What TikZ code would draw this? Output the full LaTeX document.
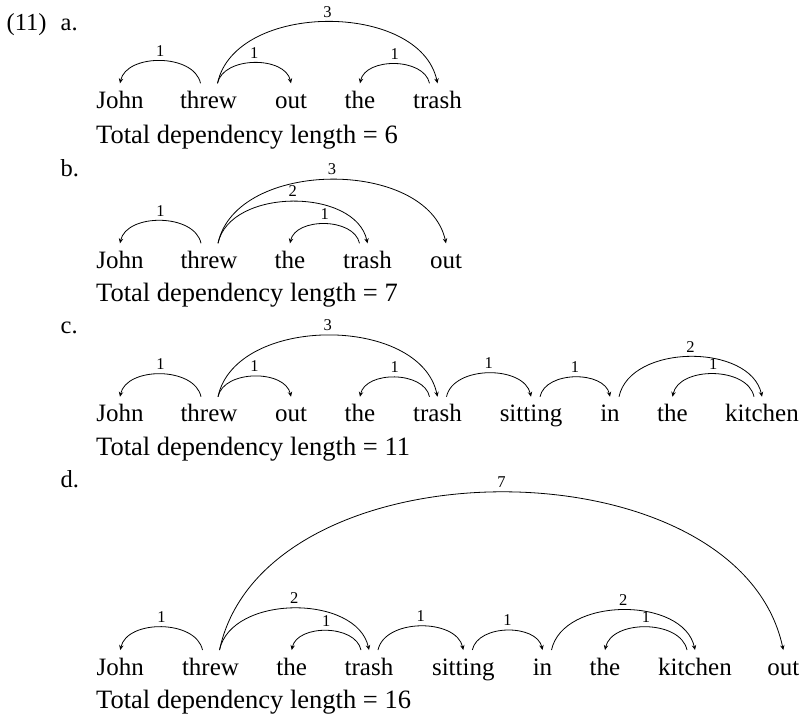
\documentclass[tikz,border=0pt]{standalone}
\usepackage{fontspec}
\setmainfont{Liberation Serif}
\usetikzlibrary{calc,arrows.meta}
\tikzset{
  word/.style={font=\fontsize{25}{30}\selectfont, inner sep=0pt, anchor=base},
  plain/.style={font=\fontsize{26.5}{30}\selectfont, inner sep=0pt, anchor=base west},
  exnum/.style={font=\fontsize{24.5}{30}\selectfont, inner sep=0pt, anchor=base west},
  lbl/.style={font=\fontsize{16.5}{18}\selectfont, inner sep=0pt},
  dep/.style={line width=0.8pt, -{Stealth[length=5pt,width=4.5pt,inset=1.8pt]}},
}
\newcommand\deparc[4]{%
  \draw[dep] let \p1=($(#1.base)+(#3,-25)$), \p2=($(#2.base)+(0,-25)$),
    \n1={0.3733*abs(\x2-\x1)} in
    (\p1) .. controls ($(\p1)!0.08!(\p2)+(0pt,\n1)$) and ($(\p2)!0.08!(\p1)+(0pt,\n1)$) .. (\p2)
    node[lbl, pos=0.5, yshift=10pt] {#4};
}
\begin{document}
\begin{tikzpicture}[x=1pt,y=-1pt]
\useasboundingbox (0,0) rectangle (805,721);
% (11) a.
\node[exnum] (num) at (6.5,30) {(11)};
\node[exnum] (la) at (60.5,30) {a.};
\node[word] (a1) at (120,108.3) {John};
\node[word] (a2) at (208.5,108.3) {threw};
\node[word] (a3) at (291,108.3) {out};
\node[word] (a4) at (360,108.3) {the};
\node[word] (a5) at (437.5,108.3) {trash};
\node[plain] (ta) at (96,143.3) {Total dependency length = 6};
\deparc{a2}{a1}{-8}{1}
\deparc{a2}{a3}{9}{1}
\deparc{a2}{a5}{9}{3}
\deparc{a5}{a4}{-8}{1}
% b.
\node[exnum] (lb) at (60.5,176.7) {b.};
\node[word] (b1) at (120,268.3) {John};
\node[word] (b2) at (209,268.3) {threw};
\node[word] (b3) at (290,268.3) {the};
\node[word] (b4) at (367.5,268.3) {trash};
\node[word] (b5) at (446,268.3) {out};
\node[plain] (tb) at (96,301.7) {Total dependency length = 7};
\deparc{b2}{b1}{-8}{1}
\deparc{b2}{b4}{9}{2}
\deparc{b4}{b3}{-8}{1}
\deparc{b2}{b5}{9}{3}
% c.
\node[exnum] (lc) at (60.5,333.3) {c.};
\node[word] (c1) at (120,421.7) {John};
\node[word] (c2) at (209,421.7) {threw};
\node[word] (c3) at (291,421.7) {out};
\node[word] (c4) at (360,421.7) {the};
\node[word] (c5) at (437.5,421.7) {trash};
\node[word] (c6) at (531,421.7) {sitting};
\node[word] (c7) at (610,421.7) {in};
\node[word] (c8) at (672.5,421.7) {the};
\node[word] (c9) at (762,421.7) {kitchen};
\node[plain] (tc) at (96,455) {Total dependency length = 11};
\deparc{c2}{c1}{-8}{1}
\deparc{c2}{c3}{9}{1}
\deparc{c2}{c5}{9}{3}
\deparc{c5}{c4}{-8}{1}
\deparc{c5}{c6}{9}{1}
\deparc{c6}{c7}{9}{1}
\deparc{c7}{c9}{9}{2}
\deparc{c9}{c8}{-8}{1}
% d.
\node[exnum] (ld) at (60.5,487.5) {d.};
\node[word] (d1) at (120.3,675) {John};
\node[word] (d2) at (210.5,675) {threw};
\node[word] (d3) at (291.7,675) {the};
\node[word] (d4) at (369,675) {trash};
\node[word] (d5) at (463.3,675) {sitting};
\node[word] (d6) at (542.5,675) {in};
\node[word] (d7) at (605,675) {the};
\node[word] (d8) at (695,675) {kitchen};
\node[word] (d9) at (783.3,675) {out};
\node[plain] (td) at (96,708.3) {Total dependency length = 16};
\deparc{d2}{d1}{-8}{1}
\deparc{d2}{d4}{9}{2}
\deparc{d4}{d3}{-8}{1}
\deparc{d2}{d9}{9}{7}
\deparc{d4}{d5}{9}{1}
\deparc{d5}{d6}{9}{1}
\deparc{d6}{d8}{9}{2}
\deparc{d8}{d7}{-8}{1}
\end{tikzpicture}
\end{document}
